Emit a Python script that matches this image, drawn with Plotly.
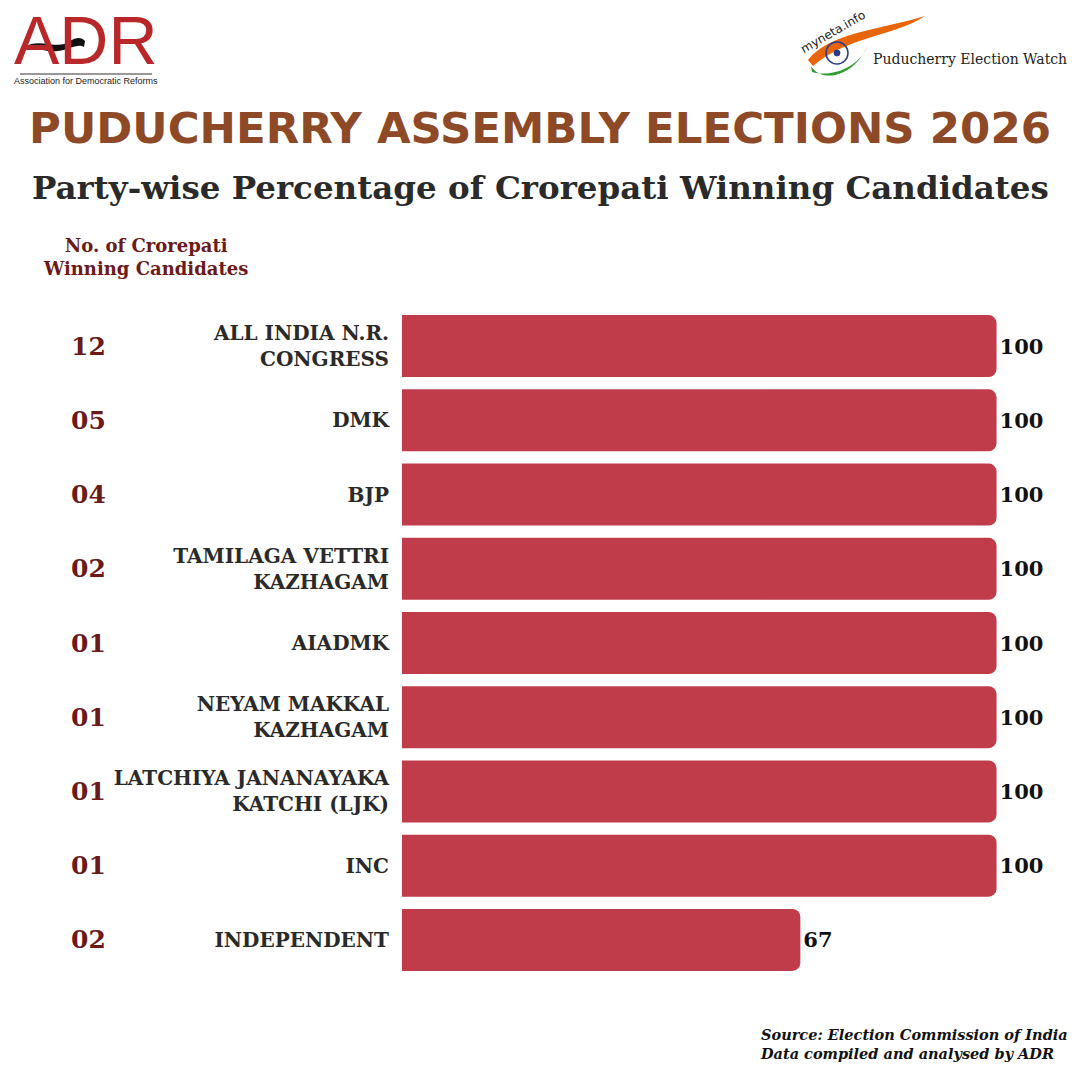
import plotly.graph_objects as go

parties = ["ALL INDIA N.R.<br>CONGRESS", "DMK", "BJP", "TAMILAGA VETTRI<br>KAZHAGAM", "AIADMK",
           "NEYAM MAKKAL<br>KAZHAGAM", "LATCHIYA JANANAYAKA<br>KATCHI (LJK)", "INC", "INDEPENDENT"]
pct = [100, 100, 100, 100, 100, 100, 100, 100, 67]
counts = ["12", "05", "04", "02", "01", "01", "01", "01", "02"]

W = H = 1080
BAR = "#C13C4B"
DARKRED = "#6B1A1A"
SERIF = "DejaVu Serif, serif"

ids = list(range(len(parties)))

fig = go.Figure()
fig.add_trace(go.Bar(
    y=ids, x=pct, orientation="h",
    marker=dict(color=BAR, line=dict(width=0)),
    text=[str(v) for v in pct], textposition="outside",
    textfont=dict(family=SERIF, size=21, color="#111111", weight="bold"),
    cliponaxis=False, hoverinfo="skip",
))

ann = []
for i, c in zip(ids, counts):
    ann.append(dict(x=88 / W, xref="paper", y=i, yref="y", text=c, showarrow=False,
                    xanchor="center", yanchor="middle",
                    font=dict(family=SERIF, size=25, color=DARKRED, weight="bold")))

ann += [
    dict(x=0.5, y=1 - 128 / H, xref="paper", yref="paper", text="PUDUCHERRY ASSEMBLY ELECTIONS 2026",
         showarrow=False, xanchor="center", yanchor="middle",
         font=dict(family="DejaVu Sans", size=43.5, color="#8E4A26", weight="bold")),
    dict(x=0.5, y=1 - 188 / H, xref="paper", yref="paper",
         text="Party-wise Percentage of Crorepati Winning Candidates",
         showarrow=False, xanchor="center", yanchor="middle",
         font=dict(family=SERIF, size=32.5, color="#2A2A2A", weight="bold")),
    dict(x=145 / W, y=1 - 257 / H, xref="paper", yref="paper",
         text="No. of Crorepati<br>Winning Candidates", showarrow=False, align="center",
         xanchor="center", yanchor="middle",
         font=dict(family=SERIF, size=18, color=DARKRED, weight="bold")),
    dict(x=1070 / W, y=1 - 1044 / H, xref="paper", yref="paper",
         text="<i>Source: Election Commission of India<br>Data compiled and analysed by ADR</i>",
         showarrow=False, align="left", xanchor="right", yanchor="middle",
         font=dict(family=SERIF, size=14.5, color="#111111", weight="bold")),
    # ADR logo text
    dict(x=86 / W, y=1.0, xref="paper", yref="paper", text="ADR", showarrow=False,
         xanchor="center", yanchor="top",
         font=dict(family="Liberation Sans", size=68, color="#B8282A")),
    dict(x=86 / W, y=1 - 81 / H, xref="paper", yref="paper",
         text="Association for Democratic Reforms", showarrow=False,
         xanchor="center", yanchor="middle",
         font=dict(family="Liberation Sans", size=9, color="#222222")),
    # myneta logo text
    dict(x=970 / W, y=1 - 59 / H, xref="paper", yref="paper", text="Puducherry Election Watch",
         showarrow=False, xanchor="center", yanchor="middle",
         font=dict(family=SERIF, size=14, color="#222222")),
    dict(x=833 / W, y=1 - 32 / H, xref="paper", yref="paper", text="myneta.info",
         showarrow=False, textangle=-30, xanchor="center", yanchor="middle",
         font=dict(family="DejaVu Sans", size=12, color="#222222")),
]

def px(x, y):
    return f"{x / W:.4f},{1 - y / H:.4f}"

shapes = [
    # ADR wave
    dict(type="path", xref="paper", yref="paper",
         path=f"M{px(24,47)} C{px(40,37)} {px(58,51)} {px(70,41)} C{px(76,37)} {px(82,37)} {px(85,41)} "
              f"L{px(84,47)} C{px(78,43)} {px(70,49)} {px(58,51)} C{px(45,53)} {px(34,45)} {px(24,51)} Z",
         fillcolor="#111111", line=dict(width=0)),
    dict(type="line", xref="paper", yref="paper", x0=20 / W, x1=152 / W, y0=1 - 74 / H, y1=1 - 74 / H,
         line=dict(color="#333333", width=1)),
    # myneta orange swoosh
    dict(type="path", xref="paper", yref="paper",
         path=f"M{px(808,60)} C{px(830,32)} {px(880,30)} {px(925,16)} C{px(895,36)} {px(848,36)} {px(813,66)} Z",
         fillcolor="#E8650A", line=dict(width=0)),
    # myneta green swoosh
    dict(type="path", xref="paper", yref="paper",
         path=f"M{px(811,66)} C{px(820,82)} {px(852,80)} {px(868,45)} C{px(860,66)} {px(834,78)} {px(812,72)} Z",
         fillcolor="#2E9B2E", line=dict(width=0)),
    dict(type="circle", xref="paper", yref="paper",
         x0=826 / W, x1=848 / W, y0=1 - 64 / H, y1=1 - 42 / H,
         line=dict(color="#2B3A8C", width=1.5), fillcolor="rgba(0,0,0,0)"),
    dict(type="circle", xref="paper", yref="paper",
         x0=834 / W, x1=840 / W, y0=1 - 56 / H, y1=1 - 50 / H,
         line=dict(color="#2B3A8C", width=1), fillcolor="#2B3A8C"),
]

fig.update_layout(
    width=W, height=H, margin=dict(l=0, r=0, t=0, b=0),
    paper_bgcolor="white", plot_bgcolor="white",
    showlegend=False, bargap=0.165, barcornerradius=8,
    annotations=ann, shapes=shapes,
    xaxis=dict(domain=[402 / W, 1056 / W], range=[0, 110], visible=False, fixedrange=True),
    yaxis=dict(domain=[1 - 977 / H, 1 - 309 / H], range=[8.5, -0.5],
               tickmode="array", tickvals=ids, ticktext=parties,
               showgrid=False, zeroline=False, showline=False, ticks="",
               ticklabelstandoff=12,
               tickfont=dict(family=SERIF, size=20, color="#2A2A2A", weight="bold")),
)

fig.write_html("out.html")
